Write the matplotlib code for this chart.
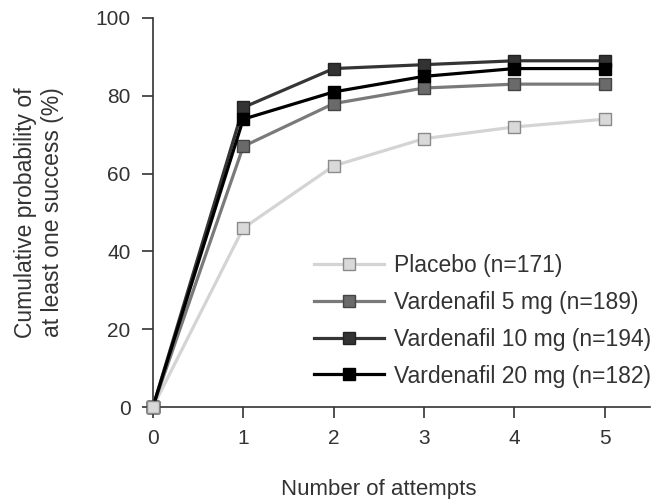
import matplotlib.pyplot as plt

attempts = [0, 1, 2, 3, 4, 5]
placebo = [0, 46, 62, 69, 72, 74]
vard_5 = [0, 67, 78, 82, 83, 83]
vard_10 = [0, 77, 87, 88, 89, 89]
vard_20 = [0, 74, 81, 85, 87, 87]

labels = ["Placebo (n=171)", "Vardenafil 5 mg (n=189)",
          "Vardenafil 10 mg (n=194)", "Vardenafil 20 mg (n=182)"]

plt.rcParams["font.family"] = ["Liberation Sans", "DejaVu Sans"]
plt.rcParams["font.size"] = 15

fig = plt.figure(figsize=(6.56, 4.99), dpi=100)
ax = fig.add_axes([0.233, 0.184, 0.758, 0.780])

styles = [
    # line colour, marker face, marker edge
    ("#d4d4d4", "#d9d9d9", "#8a8a8a"),
    ("#7a7a7a", "#6a6a6a", "#444444"),
    ("#353535", "#333333", "#222222"),
    ("#000000", "#000000", "#000000"),
]
for ys, lab, (lc, mf, me) in zip([placebo, vard_5, vard_10, vard_20], labels, styles):
    ax.plot(attempts, ys, color=lc, lw=2.3, marker="s", markersize=9,
            markerfacecolor=mf, markeredgecolor=me, markeredgewidth=1,
            label=lab, clip_on=False)

# shared starting point shows the placebo marker on top
lc, mf, me = styles[0]
ax.plot(attempts[:1], placebo[:1], ls="none", marker="s", markersize=9,
        markerfacecolor=mf, markeredgecolor=me, markeredgewidth=1,
        clip_on=False, zorder=5)

ax.set_xlim(0, 5.5)
ax.set_ylim(0, 100)
ax.set_xticks(attempts)
ax.set_yticks([0, 20, 40, 60, 80, 100])
for s in ["top", "right"]:
    ax.spines[s].set_visible(False)
for s in ["left", "bottom"]:
    ax.spines[s].set_color("#333333")
    ax.spines[s].set_linewidth(1.2)
ax.tick_params(colors="#333333", labelcolor="#333333", length=8, width=1.2,
               direction="out")
ax.tick_params(axis="x", pad=8)
ax.tick_params(axis="y", pad=8)

ax.set_xlabel("Number of attempts", fontsize=16, color="#333333")
ax.xaxis.set_label_coords(2.5 / 5.5, -0.185)
ax.set_ylabel("Cumulative probability of\nat least one success (%)", fontsize=16.5,
              color="#333333", linespacing=1.2)
ax.yaxis.set_label_coords(-0.179, 0.5)

ax.legend(loc="lower right", frameon=False, handlelength=3.05, handletextpad=0.45,
          labelspacing=0.6, borderaxespad=0.0, bbox_to_anchor=(1.021, 0.027),
          labelcolor="#333333", fontsize=16.5)

fig.savefig("out.png", dpi=100)
